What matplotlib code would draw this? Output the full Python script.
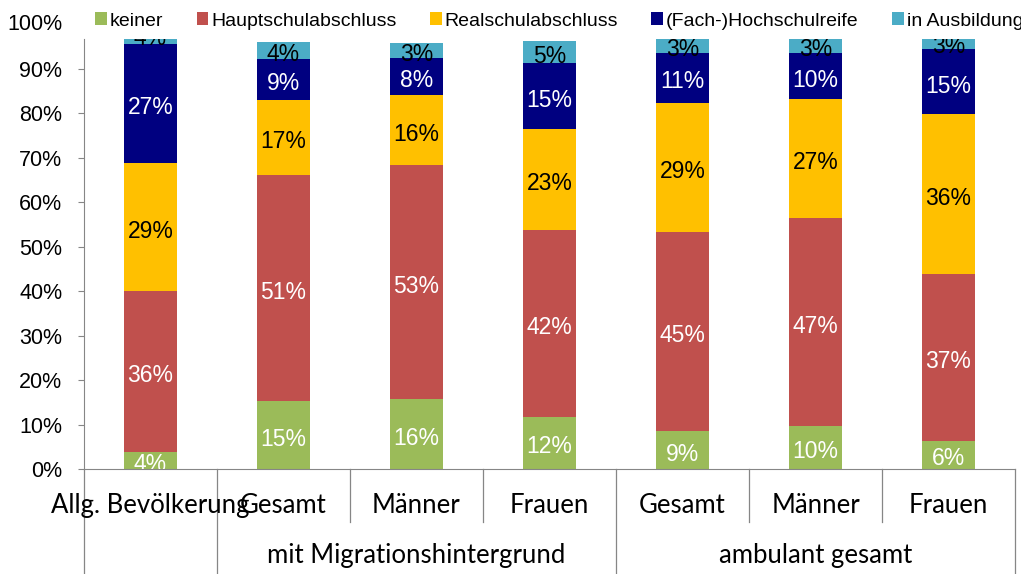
import matplotlib.pyplot as plt
import numpy as np

plt.rcParams['font.family'] = ['Liberation Sans', 'DejaVu Sans']

# Kategorien
kategorien = ['Allg. Bevölkerung', 'Gesamt', 'Männer', 'Frauen', 'Gesamt', 'Männer', 'Frauen']
gruppen = ['mit Migrationshintergrund', 'ambulant gesamt']

# Anteile in %
keiner = [3.8, 15.2, 15.7, 11.8, 8.6, 9.7, 6.4]
hauptschule = [36.2, 51.0, 52.7, 42.0, 44.7, 46.7, 37.4]
realschule = [28.9, 16.9, 15.8, 22.7, 29.1, 26.8, 36.0]
hochschulreife = [26.7, 9.1, 8.2, 14.8, 11.3, 10.5, 14.6]
ausbildung = [4.4, 3.8, 3.5, 5.0, 3.2, 3.2, 3.0]
labels_ausbildung = ['4%', '4%', '3%', '5%', '3%', '3%', '3%']

serien = [
    ('keiner', keiner, '#9BBB59', 'white'),
    ('Hauptschulabschluss', hauptschule, '#C0504D', 'white'),
    ('Realschulabschluss', realschule, '#FFC000', 'black'),
    ('(Fach-)Hochschulreife', hochschulreife, '#000080', 'white'),
    ('in Ausbildung', ausbildung, '#4BACC6', 'black'),
]

fig = plt.figure(figsize=(10.21, 5.74), dpi=100)
ax = fig.add_axes([84 / 1021, 105 / 574, 931 / 1021, 430 / 574])

x = np.arange(len(kategorien))
bottom = np.zeros(len(kategorien))
handles = []
for name, werte, farbe, textfarbe in serien:
    werte = np.array(werte)
    b = ax.bar(x, werte, width=0.4, bottom=bottom, color=farbe, label=name)
    handles.append(b)
    for i in range(len(x)):
        if name == 'in Ausbildung':
            txt = labels_ausbildung[i]
        else:
            txt = '%d%%' % round(werte[i])
        t = ax.annotate(txt, xy=(x[i], bottom[i] + werte[i] / 2), xytext=(0, -3),
                        textcoords='offset points', ha='center', va='center',
                        color=textfarbe, fontsize=16.5, annotation_clip=False)
        t.set_clip_on(True)
        t.set_clip_box(ax.bbox)
    bottom = bottom + werte

ax.set_xlim(-0.5, 6.5)
ax.set_ylim(0, 96.75)
ax.set_yticks(range(0, 100, 10))
ax.set_yticklabels(['%d%%' % v for v in range(0, 100, 10)])
ax.annotate('100%', xy=(0, 100), xycoords=('axes fraction', 'data'),
            xytext=(-15.5, 0), textcoords='offset points', ha='right', va='center',
            fontsize=15.5, annotation_clip=False)
ax.tick_params(axis='y', length=4, pad=11.5, labelsize=15.5, color='#868686')
ax.set_xticks([])
for s in ['top', 'right']:
    ax.spines[s].set_visible(False)
for s in ['left', 'bottom']:
    ax.spines[s].set_color('#868686')

# Trennlinien unter der Achse
trans = ax.get_xaxis_transform()
lang = [-0.5, 0.5, 3.5, 6.5]
for g in np.arange(-0.5, 7, 1.0):
    unten = -0.244 if g in lang else -0.123
    ax.plot([g, g], [0, unten], transform=trans, color='#868686', lw=0.9, clip_on=False)

# Beschriftungen der Kategorien
for i, k in enumerate(kategorien):
    ax.text(x[i], -0.084, k, transform=trans, ha='center', va='center',
            fontsize=18.5, family=['Lato', 'DejaVu Sans'])
ax.text(2.0, -0.202, gruppen[0], transform=trans, ha='center', va='center',
        fontsize=18.5, family=['Lato', 'DejaVu Sans'])
ax.text(5.0, -0.202, gruppen[1], transform=trans, ha='center', va='center',
        fontsize=18.5, family=['Lato', 'DejaVu Sans'])

fig.legend(handles=handles, loc='center left', bbox_to_anchor=(95 / 1021, 1 - 21 / 574),
           ncol=5, frameon=False, fontsize=14, handlelength=0.6, handleheight=0.6,
           handletextpad=0.15, columnspacing=1.72, borderaxespad=0, borderpad=0)

fig.savefig('out.png', dpi=100)
